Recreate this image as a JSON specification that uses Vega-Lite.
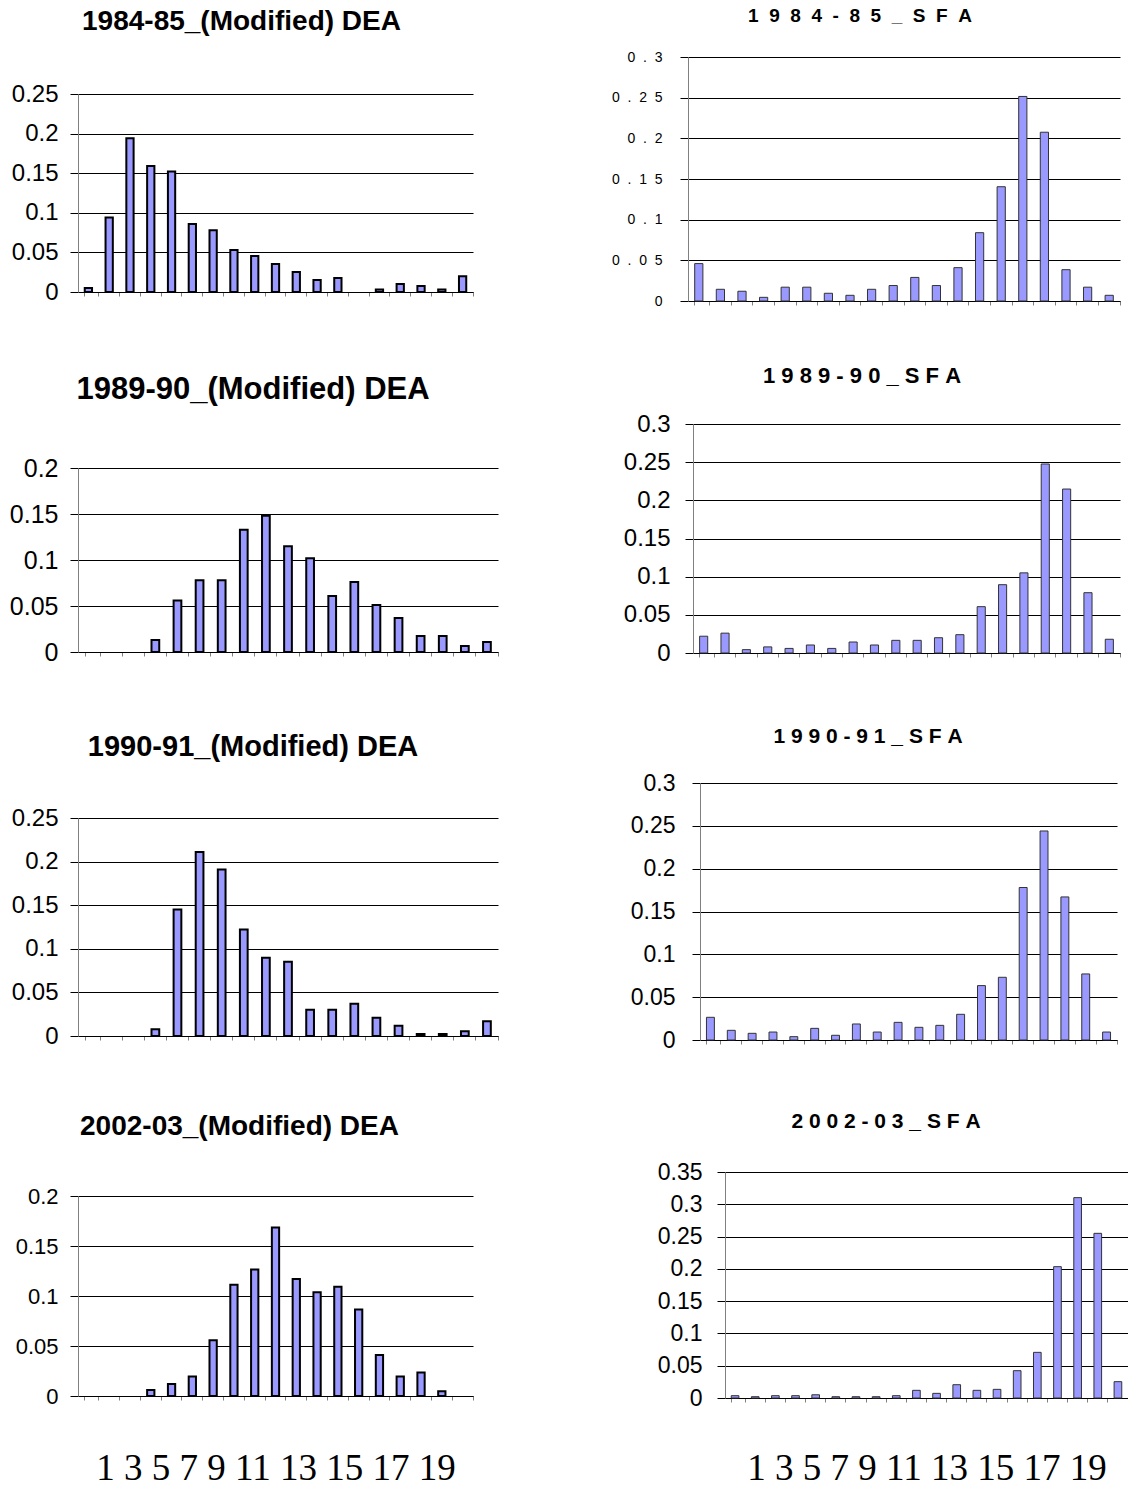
{
  "$schema": "https://vega.github.io/schema/vega-lite/v6.json",
  "background": "white",
  "padding": {"left": 9, "top": 7, "right": 0, "bottom": 0},
  "data": {"values": [
    {"p":1,"k":1,"v":0.005},{"p":1,"k":2,"v":0.094},{"p":1,"k":3,"v":0.194},{"p":1,"k":4,"v":0.159},{"p":1,"k":5,"v":0.152},{"p":1,"k":6,"v":0.086},{"p":1,"k":7,"v":0.078},{"p":1,"k":8,"v":0.053},{"p":1,"k":9,"v":0.0455},{"p":1,"k":10,"v":0.0354},{"p":1,"k":11,"v":0.0253},{"p":1,"k":12,"v":0.0152},{"p":1,"k":13,"v":0.0177},{"p":1,"k":15,"v":0.003},{"p":1,"k":16,"v":0.010},{"p":1,"k":17,"v":0.0076},{"p":1,"k":18,"v":0.003},{"p":1,"k":19,"v":0.020},
    {"p":2,"k":1,"v":0.046},{"p":2,"k":2,"v":0.0144},{"p":2,"k":3,"v":0.012},{"p":2,"k":4,"v":0.0045},{"p":2,"k":5,"v":0.017},{"p":2,"k":6,"v":0.017},{"p":2,"k":7,"v":0.0095},{"p":2,"k":8,"v":0.007},{"p":2,"k":9,"v":0.0144},{"p":2,"k":10,"v":0.019},{"p":2,"k":11,"v":0.029},{"p":2,"k":12,"v":0.019},{"p":2,"k":13,"v":0.041},{"p":2,"k":14,"v":0.084},{"p":2,"k":15,"v":0.1405},{"p":2,"k":16,"v":0.2515},{"p":2,"k":17,"v":0.2075},{"p":2,"k":18,"v":0.0385},{"p":2,"k":19,"v":0.017},{"p":2,"k":20,"v":0.007},
    {"p":3,"k":4,"v":0.013},{"p":3,"k":5,"v":0.056},{"p":3,"k":6,"v":0.078},{"p":3,"k":7,"v":0.078},{"p":3,"k":8,"v":0.133},{"p":3,"k":9,"v":0.148},{"p":3,"k":10,"v":0.115},{"p":3,"k":11,"v":0.102},{"p":3,"k":12,"v":0.061},{"p":3,"k":13,"v":0.076},{"p":3,"k":14,"v":0.051},{"p":3,"k":15,"v":0.037},{"p":3,"k":16,"v":0.0175},{"p":3,"k":17,"v":0.0175},{"p":3,"k":18,"v":0.0065},{"p":3,"k":19,"v":0.011},
    {"p":4,"k":1,"v":0.022},{"p":4,"k":2,"v":0.026},{"p":4,"k":3,"v":0.0044},{"p":4,"k":4,"v":0.008},{"p":4,"k":5,"v":0.006},{"p":4,"k":6,"v":0.0105},{"p":4,"k":7,"v":0.006},{"p":4,"k":8,"v":0.0144},{"p":4,"k":9,"v":0.0105},{"p":4,"k":10,"v":0.0166},{"p":4,"k":11,"v":0.0166},{"p":4,"k":12,"v":0.020},{"p":4,"k":13,"v":0.024},{"p":4,"k":14,"v":0.0607},{"p":4,"k":15,"v":0.0895},{"p":4,"k":16,"v":0.105},{"p":4,"k":17,"v":0.2476},{"p":4,"k":18,"v":0.2148},{"p":4,"k":19,"v":0.079},{"p":4,"k":20,"v":0.018},
    {"p":5,"k":4,"v":0.0076},{"p":5,"k":5,"v":0.145},{"p":5,"k":6,"v":0.211},{"p":5,"k":7,"v":0.191},{"p":5,"k":8,"v":0.122},{"p":5,"k":9,"v":0.0898},{"p":5,"k":10,"v":0.0852},{"p":5,"k":11,"v":0.0302},{"p":5,"k":12,"v":0.0302},{"p":5,"k":13,"v":0.037},{"p":5,"k":14,"v":0.021},{"p":5,"k":15,"v":0.0118},{"p":5,"k":16,"v":0.0023},{"p":5,"k":17,"v":0.0023},{"p":5,"k":18,"v":0.0054},{"p":5,"k":19,"v":0.0168},
    {"p":6,"k":1,"v":0.0265},{"p":6,"k":2,"v":0.0113},{"p":6,"k":3,"v":0.0078},{"p":6,"k":4,"v":0.0093},{"p":6,"k":5,"v":0.0039},{"p":6,"k":6,"v":0.0136},{"p":6,"k":7,"v":0.0055},{"p":6,"k":8,"v":0.0187},{"p":6,"k":9,"v":0.0093},{"p":6,"k":10,"v":0.0206},{"p":6,"k":11,"v":0.0148},{"p":6,"k":12,"v":0.0171},{"p":6,"k":13,"v":0.030},{"p":6,"k":14,"v":0.0635},{"p":6,"k":15,"v":0.0732},{"p":6,"k":16,"v":0.178},{"p":6,"k":17,"v":0.244},{"p":6,"k":18,"v":0.167},{"p":6,"k":19,"v":0.0771},{"p":6,"k":20,"v":0.0093},
    {"p":7,"k":4,"v":0.006},{"p":7,"k":5,"v":0.012},{"p":7,"k":6,"v":0.0196},{"p":7,"k":7,"v":0.0558},{"p":7,"k":8,"v":0.1113},{"p":7,"k":9,"v":0.1266},{"p":7,"k":10,"v":0.1684},{"p":7,"k":11,"v":0.117},{"p":7,"k":12,"v":0.1037},{"p":7,"k":13,"v":0.1093},{"p":7,"k":14,"v":0.0864},{"p":7,"k":15,"v":0.0409},{"p":7,"k":16,"v":0.0196},{"p":7,"k":17,"v":0.0236},{"p":7,"k":18,"v":0.0047},
    {"p":8,"k":1,"v":0.0036},{"p":8,"k":2,"v":0.002},{"p":8,"k":3,"v":0.0036},{"p":8,"k":4,"v":0.0036},{"p":8,"k":5,"v":0.005},{"p":8,"k":6,"v":0.002},{"p":8,"k":7,"v":0.002},{"p":8,"k":8,"v":0.002},{"p":8,"k":9,"v":0.0036},{"p":8,"k":10,"v":0.0119},{"p":8,"k":11,"v":0.0072},{"p":8,"k":12,"v":0.0206},{"p":8,"k":13,"v":0.0119},{"p":8,"k":14,"v":0.0134},{"p":8,"k":15,"v":0.0423},{"p":8,"k":16,"v":0.0707},{"p":8,"k":17,"v":0.2034},{"p":8,"k":18,"v":0.3103},{"p":8,"k":19,"v":0.255},{"p":8,"k":20,"v":0.0253}
  ]},
  "columns": 2,
  "bounds": "flush",
  "align": "each",
  "spacing": {"row": 123, "column": 190},
  "concat": [
    {
      "title": {"text": "1984-85_(Modified) DEA", "fontSize": 28, "offset": 21, "dx": -34},
      "width": 395, "height": 244,
      "transform": [{"filter": "datum.p == 1"}],
      "mark": {"type": "bar", "fill": "#9999FF", "stroke": "black", "strokeWidth": 2},
      "encoding": {
        "x": {"field": "k", "type": "ordinal", "scale": {"domain": [1,2,3,4,5,6,7,8,9,10,11,12,13,14,15,16,17,18,19], "paddingInner": 0.65, "paddingOuter": 0.325}, "axis": {"title": null, "offset": -9, "bandPosition": 1.93}},
        "y": {"field": "v", "type": "quantitative", "scale": {"domain": [0, 0.25], "range": [235, 37], "nice": false}, "axis": {"title": null, "values": [0, 0.05, 0.1, 0.15, 0.2, 0.25]}}
      }
    },
    {
      "title": {"text": "1\u00a0\u00a09\u00a0\u00a08\u00a0\u00a04\u00a0\u00a0-\u00a0\u00a08\u00a0\u00a05\u00a0\u00a0_\u00a0\u00a0S\u00a0\u00a0F\u00a0\u00a0A", "fontSize": 19, "offset": 24, "dx": -44},
      "width": 432, "height": 244,
      "transform": [{"filter": "datum.p == 2"}],
      "mark": {"type": "bar", "fill": "#9999FF", "stroke": "#333333", "strokeWidth": 1},
      "encoding": {
        "x": {"field": "k", "type": "ordinal", "scale": {"domain": [1,2,3,4,5,6,7,8,9,10,11,12,13,14,15,16,17,18,19,20], "paddingInner": 0.62, "paddingOuter": 0.31, "range": [0, 432]}, "axis": {"title": null, "bandPosition": 1.82}},
        "y": {"field": "v", "type": "quantitative", "scale": {"domain": [0, 0.3], "nice": false}, "axis": {"title": null, "values": [0, 0.05, 0.1, 0.15, 0.2, 0.25, 0.3], "labelFontSize": 14, "labelPadding": 18, "labelExpr": "join(split(datum.label, ''), '\u00a0\u00a0')"}}
      }
    },
    {
      "title": {"text": "1989-90_(Modified) DEA", "fontSize": 31, "offset": 18, "dx": -35},
      "width": 420, "height": 229,
      "transform": [{"filter": "datum.p == 3"}],
      "mark": {"type": "bar", "fill": "#9999FF", "stroke": "black", "strokeWidth": 2},
      "encoding": {
        "x": {"field": "k", "type": "ordinal", "scale": {"domain": [1,2,3,4,5,6,7,8,9,10,11,12,13,14,15,16,17,18,19], "paddingInner": 0.65, "paddingOuter": 0.325}, "axis": {"title": null, "offset": -1, "bandPosition": 1.93}},
        "y": {"field": "v", "type": "quantitative", "scale": {"domain": [0, 0.2], "range": [228, 44], "nice": false}, "axis": {"title": null, "values": [0, 0.05, 0.1, 0.15, 0.2], "labelFontSize": 25}}
      }
    },
    {
      "title": {"text": "1\u00a09\u00a08\u00a09\u00a0-\u00a09\u00a00\u00a0_\u00a0S\u00a0F\u00a0A", "fontSize": 22, "offset": 24, "dx": -42},
      "width": 432, "height": 229,
      "transform": [{"filter": "datum.p == 4"}],
      "mark": {"type": "bar", "fill": "#9999FF", "stroke": "#333333", "strokeWidth": 1},
      "encoding": {
        "x": {"field": "k", "type": "ordinal", "scale": {"domain": [1,2,3,4,5,6,7,8,9,10,11,12,13,14,15,16,17,18,19,20], "paddingInner": 0.62, "paddingOuter": 0.31, "range": [5, 432]}, "axis": {"title": null, "bandPosition": 1.82}},
        "y": {"field": "v", "type": "quantitative", "scale": {"domain": [0, 0.3], "nice": false}, "axis": {"title": null, "offset": -5, "values": [0, 0.05, 0.1, 0.15, 0.2, 0.25, 0.3], "labelFontSize": 24, "labelPadding": 15}}
      }
    },
    {
      "title": {"text": "1990-91_(Modified) DEA", "fontSize": 29, "offset": 14, "dx": -35},
      "width": 420, "height": 264,
      "transform": [{"filter": "datum.p == 5"}],
      "mark": {"type": "bar", "fill": "#9999FF", "stroke": "black", "strokeWidth": 2},
      "encoding": {
        "x": {"field": "k", "type": "ordinal", "scale": {"domain": [1,2,3,4,5,6,7,8,9,10,11,12,13,14,15,16,17,18,19], "paddingInner": 0.65, "paddingOuter": 0.325}, "axis": {"title": null, "offset": -4, "bandPosition": 1.93}},
        "y": {"field": "v", "type": "quantitative", "scale": {"domain": [0, 0.25], "range": [260, 42], "nice": false}, "axis": {"title": null, "values": [0, 0.05, 0.1, 0.15, 0.2, 0.25]}}
      }
    },
    {
      "title": {"text": "1\u00a09\u00a09\u00a00\u00a0-\u00a09\u00a01\u00a0_\u00a0S\u00a0F\u00a0A", "fontSize": 21, "offset": 25, "dx": -36},
      "width": 432, "height": 264,
      "transform": [{"filter": "datum.p == 6"}],
      "mark": {"type": "bar", "fill": "#9999FF", "stroke": "#333333", "strokeWidth": 1},
      "encoding": {
        "x": {"field": "k", "type": "ordinal", "scale": {"domain": [1,2,3,4,5,6,7,8,9,10,11,12,13,14,15,16,17,18,19,20], "paddingInner": 0.62, "paddingOuter": 0.31, "range": [12, 429]}, "axis": {"title": null, "bandPosition": 1.82}},
        "y": {"field": "v", "type": "quantitative", "scale": {"domain": [0, 0.3], "range": [264, 7], "nice": false}, "axis": {"title": null, "offset": -12, "values": [0, 0.05, 0.1, 0.15, 0.2, 0.25, 0.3], "labelFontSize": 23, "labelPadding": 17}}
      }
    },
    {
      "title": {"text": "2002-03_(Modified) DEA", "fontSize": 28, "offset": 22, "dx": -36},
      "width": 395, "height": 235,
      "transform": [{"filter": "datum.p == 7"}],
      "mark": {"type": "bar", "fill": "#9999FF", "stroke": "black", "strokeWidth": 2},
      "encoding": {
        "x": {"field": "k", "type": "ordinal", "scale": {"domain": [1,2,3,4,5,6,7,8,9,10,11,12,13,14,15,16,17,18,19], "paddingInner": 0.65, "paddingOuter": 0.325}, "axis": {"title": "1 3 5 7 9 11 13 15 17 19", "offset": -2, "bandPosition": 1.93, "titleFont": "Liberation Serif", "titleFontSize": 37, "titleFontWeight": "normal", "titleColor": "black", "titlePadding": 50}},
        "y": {"field": "v", "type": "quantitative", "scale": {"domain": [0, 0.2], "range": [233, 33], "nice": false}, "axis": {"title": null, "values": [0, 0.05, 0.1, 0.15, 0.2], "labelFontSize": 22}}
      }
    },
    {
      "title": {"text": "2\u00a00\u00a00\u00a02\u00a0-\u00a00\u00a03\u00a0_\u00a0S\u00a0F\u00a0A", "fontSize": 21, "offset": 29, "dx": -22},
      "width": 440, "height": 235,
      "transform": [{"filter": "datum.p == 8"}],
      "mark": {"type": "bar", "fill": "#9999FF", "stroke": "#333333", "strokeWidth": 1},
      "encoding": {
        "x": {"field": "k", "type": "ordinal", "scale": {"domain": [1,2,3,4,5,6,7,8,9,10,11,12,13,14,15,16,17,18,19,20], "paddingInner": 0.62, "paddingOuter": 0.31, "range": [37, 440]}, "axis": {"title": "1 3 5 7 9 11 13 15 17 19", "bandPosition": 1.82, "titleFont": "Liberation Serif", "titleFontSize": 37, "titleFontWeight": "normal", "titleColor": "black", "titlePadding": 48}},
        "y": {"field": "v", "type": "quantitative", "scale": {"domain": [0, 0.35], "range": [235, 9], "nice": false}, "axis": {"title": null, "offset": -37, "values": [0, 0.05, 0.1, 0.15, 0.2, 0.25, 0.3, 0.35], "labelFontSize": 23, "labelPadding": 15}}
      }
    }
  ],
  "config": {
    "view": {"stroke": null},
    "font": "Liberation Sans",
    "title": {"font": "Liberation Sans", "fontWeight": "bold", "color": "black", "anchor": "middle"},
    "axisX": {"labels": false, "grid": false, "domainColor": "black", "domainWidth": 1, "tickColor": "#808080", "tickSize": 4, "tickExtra": true},
    "axisY": {"grid": true, "gridColor": "black", "gridWidth": 1, "gridOpacity": 1, "tickColor": "black", "tickSize": 8, "tickWidth": 1, "domainColor": "#808080", "domainWidth": 1, "labelColor": "black", "labelFont": "Liberation Sans", "labelFontSize": 24, "labelPadding": 12, "labelFlush": false, "labelOverlap": false, "format": "~g"}
  }
}
